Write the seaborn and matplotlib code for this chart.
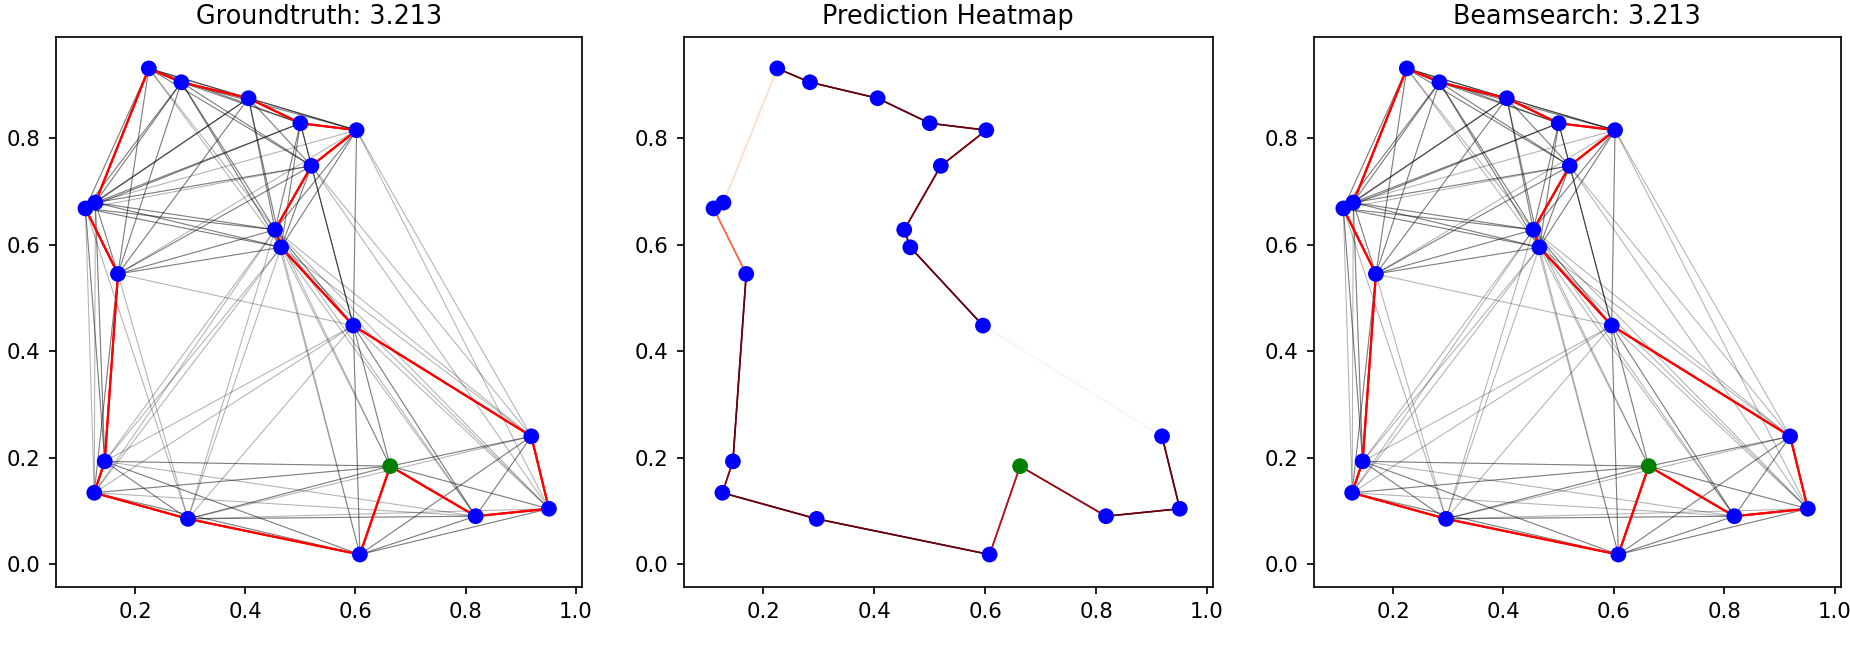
import numpy as np
import pandas as pd
import matplotlib
matplotlib.use("Agg")
import matplotlib.pyplot as plt
from matplotlib.collections import LineCollection
from matplotlib.colors import Normalize
import seaborn as sns

# Node coordinates (node 0 is the start city)
node_x = [0.663, 0.225, 0.284, 0.406, 0.500, 0.602, 0.520, 0.128, 0.110, 0.454,
          0.465, 0.169, 0.596, 0.919, 0.145, 0.126, 0.296, 0.608, 0.818, 0.951]
node_y = [0.184, 0.931, 0.905, 0.875, 0.828, 0.815, 0.748, 0.679, 0.668, 0.628,
          0.595, 0.545, 0.448, 0.240, 0.193, 0.134, 0.085, 0.018, 0.090, 0.104]

# Closed tour (ground truth and beam search agree)
tour = [0, 18, 19, 13, 12, 10, 9, 6, 5, 4, 3, 2, 1, 7, 8, 11, 14, 15, 16, 17]

# Predicted edge probabilities along the tour edges (tour[i] -> tour[i+1])
pred_prob = [0.88, 0.95, 0.95, 0.27, 0.95, 0.95, 0.93, 0.93, 0.95, 0.95,
             0.95, 0.95, 0.36, 0.90, 0.60, 0.95, 0.90, 0.95, 0.95, 0.82]

gt_length = 3.213
bs_length = 3.213
titles = [f"Groundtruth: {gt_length:.3f}", "Prediction Heatmap", f"Beamsearch: {bs_length:.3f}"]
num_neighbors = 10

pts = np.column_stack([node_x, node_y])
n = len(pts)
nodes = pd.DataFrame({"x": node_x, "y": node_y,
                      "role": ["start"] + ["other"] * (n - 1)})

# k-nearest-neighbour graph (directed pairs; mutual pairs get drawn twice)
dist = np.sqrt(((pts[:, None, :] - pts[None, :, :]) ** 2).sum(-1))
knn_pairs = []
for r in range(n):
    order = [c for c in np.argsort(dist[r]) if c != r][:num_neighbors]
    knn_pairs += [(r, c) for c in order]

tour_pairs = []
for i in range(n):
    a, b = tour[i], tour[(i + 1) % n]
    tour_pairs += [(a, b), (b, a)]


def segs(pairs):
    return [[pts[a], pts[b]] for a, b in pairs]


def draw_nodes(ax):
    sns.scatterplot(data=nodes, x="x", y="y", hue="role",
                    palette={"start": "g", "other": "b"}, s=55,
                    linewidth=0, legend=False, ax=ax, zorder=2)


def finish(ax, title):
    ax.set_xlim(0.056, 1.011)
    ax.set_ylim(-0.043, 0.990)
    ax.set_xticks([0.2, 0.4, 0.6, 0.8, 1.0])
    ax.set_yticks([0.0, 0.2, 0.4, 0.6, 0.8])
    ax.set_xlabel("")
    ax.set_ylabel("")
    ax.set_title(title, fontsize=12)
    ax.tick_params(labelsize=10)


def plot_tour(ax, title):
    draw_nodes(ax)
    ax.add_collection(LineCollection(segs(knn_pairs), colors="k", alpha=0.3,
                                     linewidths=0.5, zorder=1))
    ax.add_collection(LineCollection(segs(tour_pairs), colors="r", alpha=1,
                                     linewidths=1, zorder=1))
    finish(ax, title)


def plot_heatmap(ax, title):
    draw_nodes(ax)
    pairs, vals = [], []
    for i in range(n):
        a, b = tour[i], tour[(i + 1) % n]
        pairs += [(a, b), (b, a)]
        vals += [pred_prob[i], pred_prob[i]]
    lc = LineCollection(segs(pairs), cmap=plt.cm.Reds,
                        norm=Normalize(min(vals), max(vals)),
                        linewidths=0.75, zorder=1)
    lc.set_array(np.array(vals))
    ax.add_collection(lc)
    finish(ax, title)


fig = plt.figure(figsize=(1850 / 153, 655 / 153), dpi=153)
axes = [fig.add_axes([0.0301, 0.1038, 0.2845, 0.8397]),
        fig.add_axes([0.3695, 0.1038, 0.2862, 0.8397]),
        fig.add_axes([0.7100, 0.1038, 0.2851, 0.8397])]

plot_tour(axes[0], titles[0])
plot_heatmap(axes[1], titles[1])
plot_tour(axes[2], titles[2])

fig.savefig("out.png", dpi=153)
